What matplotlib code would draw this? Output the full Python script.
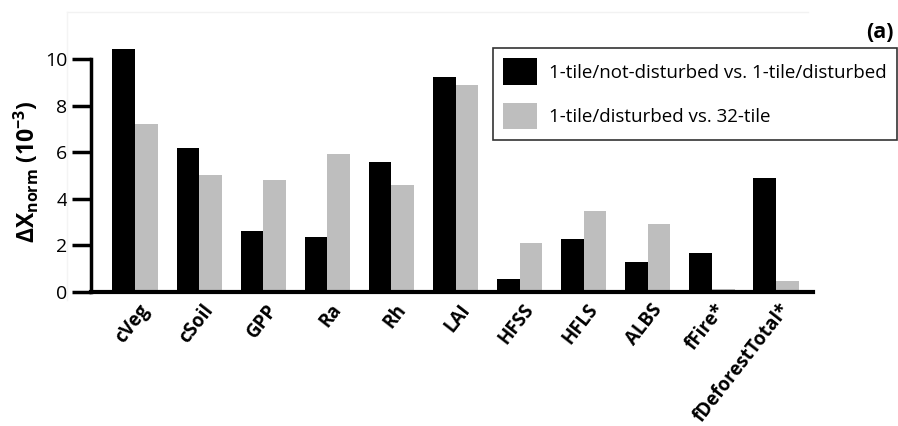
import matplotlib
matplotlib.use("Agg")
import matplotlib.pyplot as plt
import matplotlib.transforms as mtransforms
from matplotlib.lines import Line2D
import numpy as np

plt.rcParams["font.family"] = ["Open Sans", "DejaVu Sans"]
plt.rcParams["mathtext.fontset"] = "custom"
plt.rcParams["mathtext.rm"] = "Open Sans"
plt.rcParams["mathtext.bf"] = "Open Sans:bold"

variables = ["cVeg", "cSoil", "GPP", "Ra", "Rh", "LAI", "HFSS", "HFLS", "ALBS",
             "fFire*", "fDeforestTotal*"]
not_dist_vs_dist = [10.44, 6.19, 2.63, 2.35, 5.57, 9.24, 0.54, 2.26, 1.31, 1.66, 4.91]
dist_vs_32tile = [7.22, 5.03, 4.83, 5.93, 4.60, 8.90, 2.12, 3.49, 2.92, 0.11, 0.48]
series_labels = ["1-tile/not-disturbed vs. 1-tile/disturbed",
                 "1-tile/disturbed vs. 32-tile"]
colors = ["#000000", "#bebebe"]

W, H = 898, 426
fig = plt.figure(figsize=(W / 100, H / 100), dpi=100)

# faint outer chart frame
fig.add_artist(Line2D([67 / W, 808 / W], [1 - 12 / H, 1 - 12 / H], color="#f2f2f2", lw=1))
fig.add_artist(Line2D([67 / W, 67 / W], [1 - 12 / H, 1 - 300 / H], color="#f4f4f4", lw=1))

ax = fig.add_axes([91 / W, (H - 292) / H, 722 / W, 256 / H])
x = np.arange(len(variables))
bw = 0.355
ax.bar(x - bw / 2, not_dist_vs_dist, bw, color=colors[0], label=series_labels[0],
       clip_on=False)
ax.bar(x + bw / 2, dist_vs_32tile, bw, color=colors[1], label=series_labels[1],
       clip_on=False)

ax.set_xlim(-0.69, 10.58)
ax.set_ylim(0, 11)
ax.set_yticks([0, 2, 4, 6, 8, 10])
ax.tick_params(axis="y", length=14, width=2.5, labelsize=14, pad=3)
ax.tick_params(axis="x", length=0, pad=6)
for s in ("top", "right"):
    ax.spines[s].set_visible(False)
ax.spines["left"].set_bounds(0, 10)
ax.spines["left"].set_linewidth(2.5)
ax.spines["bottom"].set_linewidth(3)

ax.set_xticks(x)
ax.set_xticklabels(variables, rotation=52, ha="right", rotation_mode="anchor",
                   fontsize=13.5, fontweight="bold")
shift = mtransforms.ScaledTranslation(3 / 100, 0, fig.dpi_scale_trans)
for lab in ax.get_xticklabels():
    lab.set_transform(lab.get_transform() + shift)

fig.text(26 / W, 1 - 172 / H, r"$\mathbf{\Delta X_{norm}}$ $\mathbf{(10^{-3})}$",
         rotation=90, ha="center", va="center", fontsize=16.5, fontweight="bold")
fig.text(894 / W, 1 - 32 / H, "(a)", ha="right", va="center", fontsize=15.5,
         fontweight="bold")

leg = ax.legend(loc="upper left", bbox_to_anchor=(493 / W, 1 - 48 / H),
                bbox_transform=fig.transFigure, fontsize=13.5, frameon=True,
                fancybox=False, edgecolor="black", handlelength=1.8, handleheight=1.8,
                labelspacing=0.95, handletextpad=0.65, borderpad=0.55, borderaxespad=0)
leg.get_frame().set_linewidth(1.2)

fig.savefig("out.png", dpi=100)
